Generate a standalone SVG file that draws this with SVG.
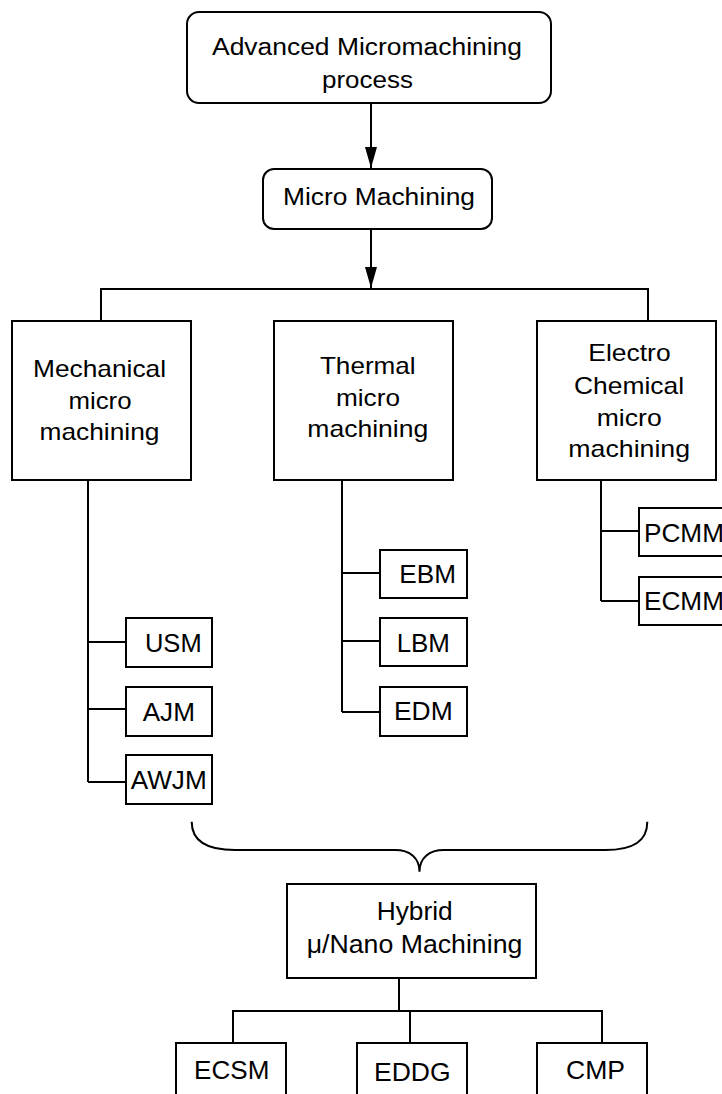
<svg xmlns="http://www.w3.org/2000/svg" width="722" height="1094" viewBox="0 0 722 1094">
  <style>
    rect { fill: #fff; stroke: #000; stroke-width: 2; }
    .c path, .c line { fill: none; stroke: #000; stroke-width: 2; }
    text { font-family: "Liberation Sans", Arial, sans-serif; fill: #000; text-anchor: middle; }
    .l { font-size: 23.5px; }
    .m { font-size: 24px; }
    .s { font-size: 25px; }
    .b { font-size: 26px; }
  </style>
  <defs>
    <marker id="ah" markerUnits="userSpaceOnUse" markerWidth="22" markerHeight="12" refX="21" refY="6" orient="auto">
      <path d="M0,0 L21,6 L0,12 z" fill="#000"/>
    </marker>
  </defs>
  <rect width="722" height="1094" style="fill:#fff;stroke:none"/>

  <g class="c" id="connectors">
    <line x1="371" y1="103" x2="371" y2="168" marker-end="url(#ah)"/>
    <line x1="371" y1="229" x2="371" y2="288" marker-end="url(#ah)"/>
    <path d="M101,321 V289 H648 V321"/>
    <path d="M88,480 V782 M88,642 H126 M88,709 H126 M88,782 H126"/>
    <path d="M342,480 V712 M342,573 H380 M342,641 H380 M342,712 H380"/>
    <path d="M601,480 V601 M601,531 H639 M601,601 H639"/>
    <path d="M191.7,821.7 C191.7,840 205,850 235,850 L395,850 C410,850 419.5,858 419.5,871.7 C419.5,858 429,850 444,850 L605,850 C635,850 647.3,840 647.3,821.7"/>
    <path d="M399,978 V1011 M233,1043 V1011 H602 V1043 M410,1011 V1043"/>
  </g>

  <g id="n-advanced">
    <rect x="187" y="12" width="364" height="91" rx="12"/>
    <text class="l" x="367" y="55" textLength="310" lengthAdjust="spacingAndGlyphs">Advanced Micromachining</text>
    <text class="l" x="367.5" y="88" textLength="91" lengthAdjust="spacingAndGlyphs">process</text>
  </g>
  <g id="n-micro">
    <rect x="263" y="169" width="229" height="60" rx="11"/>
    <text class="l" x="379" y="205" textLength="192" lengthAdjust="spacingAndGlyphs">Micro Machining</text>
  </g>

  <g id="n-mechanical">
    <rect x="12" y="321" width="179" height="159"/>
    <text class="m" x="99.5" y="377" textLength="133" lengthAdjust="spacingAndGlyphs">Mechanical</text>
    <text class="m" x="100" y="408.5" textLength="63" lengthAdjust="spacingAndGlyphs">micro</text>
    <text class="m" x="99.5" y="440" textLength="120" lengthAdjust="spacingAndGlyphs">machining</text>
  </g>
  <g id="n-thermal">
    <rect x="274" y="321" width="179" height="159"/>
    <text class="m" x="367.8" y="373.5" textLength="95.7" lengthAdjust="spacingAndGlyphs">Thermal</text>
    <text class="m" x="368" y="406" textLength="64" lengthAdjust="spacingAndGlyphs">micro</text>
    <text class="m" x="367.8" y="437" textLength="121" lengthAdjust="spacingAndGlyphs">machining</text>
  </g>
  <g id="n-electro">
    <rect x="537" y="321" width="179" height="159"/>
    <text class="m" x="629.5" y="361" textLength="82.3" lengthAdjust="spacingAndGlyphs">Electro</text>
    <text class="m" x="629" y="393.5" textLength="110" lengthAdjust="spacingAndGlyphs">Chemical</text>
    <text class="m" x="629.2" y="425.7" textLength="65" lengthAdjust="spacingAndGlyphs">micro</text>
    <text class="m" x="629.2" y="457" textLength="121.7" lengthAdjust="spacingAndGlyphs">machining</text>
  </g>

  <g id="n-usm">
    <rect x="126" y="618" width="86" height="49"/>
    <text class="s" x="173.3" y="652" textLength="56.7" lengthAdjust="spacingAndGlyphs">USM</text>
  </g>
  <g id="n-ajm">
    <rect x="126" y="687" width="86" height="49"/>
    <text class="s" x="168.8" y="721" textLength="52.3" lengthAdjust="spacingAndGlyphs">AJM</text>
  </g>
  <g id="n-awjm">
    <rect x="126" y="755" width="86" height="49"/>
    <text class="s" x="168.7" y="788.5" textLength="76" lengthAdjust="spacingAndGlyphs">AWJM</text>
  </g>

  <g id="n-ebm">
    <rect x="380" y="550" width="87" height="48"/>
    <text class="s" x="427.7" y="582.5" textLength="56.7" lengthAdjust="spacingAndGlyphs">EBM</text>
  </g>
  <g id="n-lbm">
    <rect x="380" y="618" width="87" height="48"/>
    <text class="s" x="423.3" y="652.3" textLength="53.3" lengthAdjust="spacingAndGlyphs">LBM</text>
  </g>
  <g id="n-edm">
    <rect x="380" y="687" width="87" height="49"/>
    <text class="s" x="423.3" y="720.3" textLength="58.7" lengthAdjust="spacingAndGlyphs">EDM</text>
  </g>

  <g id="n-pcmm">
    <rect x="639" y="508" width="90" height="48"/>
    <text class="s" x="644" y="541.7" style="text-anchor:start" textLength="80" lengthAdjust="spacingAndGlyphs">PCMM</text>
  </g>
  <g id="n-ecmm">
    <rect x="639" y="577" width="90" height="48"/>
    <text class="s" x="644" y="609.5" style="text-anchor:start" textLength="80" lengthAdjust="spacingAndGlyphs">ECMM</text>
  </g>

  <g id="n-hybrid">
    <rect x="287" y="884" width="249" height="94"/>
    <text class="b" x="414.7" y="920" textLength="76" lengthAdjust="spacingAndGlyphs">Hybrid</text>
    <text class="b" x="414.5" y="952.7" textLength="215.7" lengthAdjust="spacingAndGlyphs">μ/Nano Machining</text>
  </g>

  <g id="n-ecsm">
    <rect x="176" y="1043" width="110" height="70"/>
    <text class="b" x="231.7" y="1079" textLength="75.3" lengthAdjust="spacingAndGlyphs">ECSM</text>
  </g>
  <g id="n-eddg">
    <rect x="357" y="1043" width="110" height="70"/>
    <text class="b" x="412.3" y="1081" textLength="76.7" lengthAdjust="spacingAndGlyphs">EDDG</text>
  </g>
  <g id="n-cmp">
    <rect x="537" y="1043" width="110" height="70"/>
    <text class="b" x="595.5" y="1079" textLength="59" lengthAdjust="spacingAndGlyphs">CMP</text>
  </g>
</svg>
